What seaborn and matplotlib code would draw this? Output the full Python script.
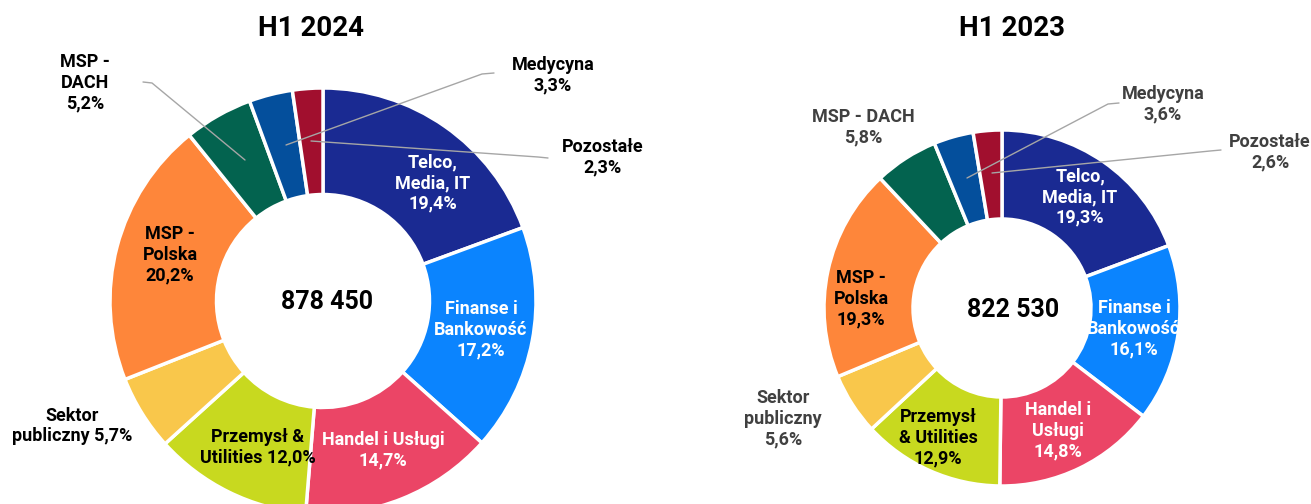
import matplotlib
matplotlib.use("Agg")
import matplotlib.pyplot as plt
import seaborn as sns

sns.set_theme(style="white")
plt.rcParams['font.family'] = ['Roboto', 'DejaVu Sans']

# ---- data ----
sectors = ["Telco, Media, IT", "Finanse i Bankowość", "Handel i Usługi",
           "Przemysł & Utilities", "Sektor publiczny", "MSP - Polska",
           "MSP - DACH", "Medycyna", "Pozostałe"]
share_2024 = [19.4, 17.2, 14.7, 12.0, 5.7, 20.2, 5.2, 3.3, 2.3]
share_2023 = [19.3, 16.1, 14.8, 12.9, 5.6, 19.3, 5.8, 3.6, 2.6]
titles = ["H1 2024", "H1 2023"]
totals = ["878 450", "822 530"]

colors = sns.color_palette(["#1A2A92", "#0B84FE", "#EB4566", "#C8D91F", "#F9C74B",
                            "#FE863A", "#03634F", "#044F9C", "#A10F2E"])

W, H = 1311, 504
fig = plt.figure(figsize=(W / 100, H / 100), dpi=100)
ax = fig.add_axes([0, 0, 1, 1])
ax.set_xlim(0, W)
ax.set_ylim(0, H)
ax.set_aspect("equal")
ax.axis("off")


def Y(y):
    return H - y


def fmt(v):
    return f"{v:.1f}".replace(".", ",") + "%"


# chart layout: (center x, center y, radius)
layouts = [(323, 301, 213), (1002, 308, 178)]

for vals, (cx, cy, r) in zip([share_2024, share_2023], layouts):
    ax.pie(vals, colors=colors, startangle=90, counterclock=False,
           center=(cx, Y(cy)), radius=r,
           wedgeprops=dict(width=r * 0.5, edgecolor="white", linewidth=2.5))

ax.set_xlim(0, W)
ax.set_ylim(0, H)

# titles and totals
for t, x in zip(titles, [311, 1012]):
    ax.text(x, Y(28), t, ha="center", va="center", fontsize=20, fontweight="bold", color="black")
for t, (x, y) in zip(totals, [(327, 302), (1013, 310)]):
    ax.text(x, Y(y), t, ha="center", va="center", fontsize=18, fontweight="bold", color="black")

fs = 13
ls = 1.2

# ---- H1 2024 labels ----
v = share_2024
lab24 = [
    (433, 183, f"Telco,\nMedia, IT\n{fmt(v[0])}", "white"),
    (481, 330, f"Finanse i\nBankowość\n{fmt(v[1])}", "white"),
    (383, 450, f"Handel i Usługi\n{fmt(v[2])}", "white"),
    (258, 447, f"Przemysł &\nUtilities {fmt(v[3])}", "black"),
    (72, 426, f"Sektor\npubliczny {fmt(v[4])}", "black"),
    (170, 255, f"MSP -\nPolska\n{fmt(v[5])}", "black"),
    (85, 83, f"MSP -\nDACH\n{fmt(v[6])}", "black"),
    (553, 75, f"Medycyna\n{fmt(v[7])}", "black"),
    (603, 157, f"Pozostałe\n{fmt(v[8])}", "black"),
]
for x, y, s, c in lab24:
    ax.text(x, Y(y), s, ha="center", va="center", fontsize=fs, fontweight="bold",
            color=c, linespacing=ls)

lc = "#A6A6A6"
for xs, ys in [([143, 152, 245], [82, 83, 160]),
               ([494, 482, 286], [73, 74, 145]),
               ([548, 538, 311], [158, 157, 141])]:
    ax.plot(xs, [Y(y) for y in ys], color=lc, lw=1)

# ---- H1 2023 labels ----
v = share_2023
g = "#404040"
lab23 = [
    (1080, 197, f"Telco,\nMedia, IT\n{fmt(v[0])}", "white"),
    (1134, 329, f"Finanse i\nBankowość\n{fmt(v[1])}", "white"),
    (1058, 431, f"Handel i\nUsługi\n{fmt(v[2])}", "white"),
    (938, 438, f"Przemysł\n& Utilities\n{fmt(v[3])}", "black"),
    (783, 419, f"Sektor\npubliczny\n{fmt(v[4])}", g),
    (861, 299, f"MSP -\nPolska\n{fmt(v[5])}", "black"),
    (863, 127, f"MSP - DACH\n{fmt(v[6])}", g),
    (1163, 104, f"Medycyna\n{fmt(v[7])}", g),
    (1270, 152, f"Pozostałe\n{fmt(v[8])}", g),
]
for x, y, s, c in lab23:
    ax.text(x, Y(y), s, ha="center", va="center", fontsize=fs, fontweight="bold",
            color=c, linespacing=ls)

for xs, ys in [([1119, 1108, 967], [103, 104, 178]),
               ([1221, 1210, 992], [150, 151, 173])]:
    ax.plot(xs, [Y(y) for y in ys], color=lc, lw=1)

fig.savefig("out.png", dpi=100, facecolor="white")
